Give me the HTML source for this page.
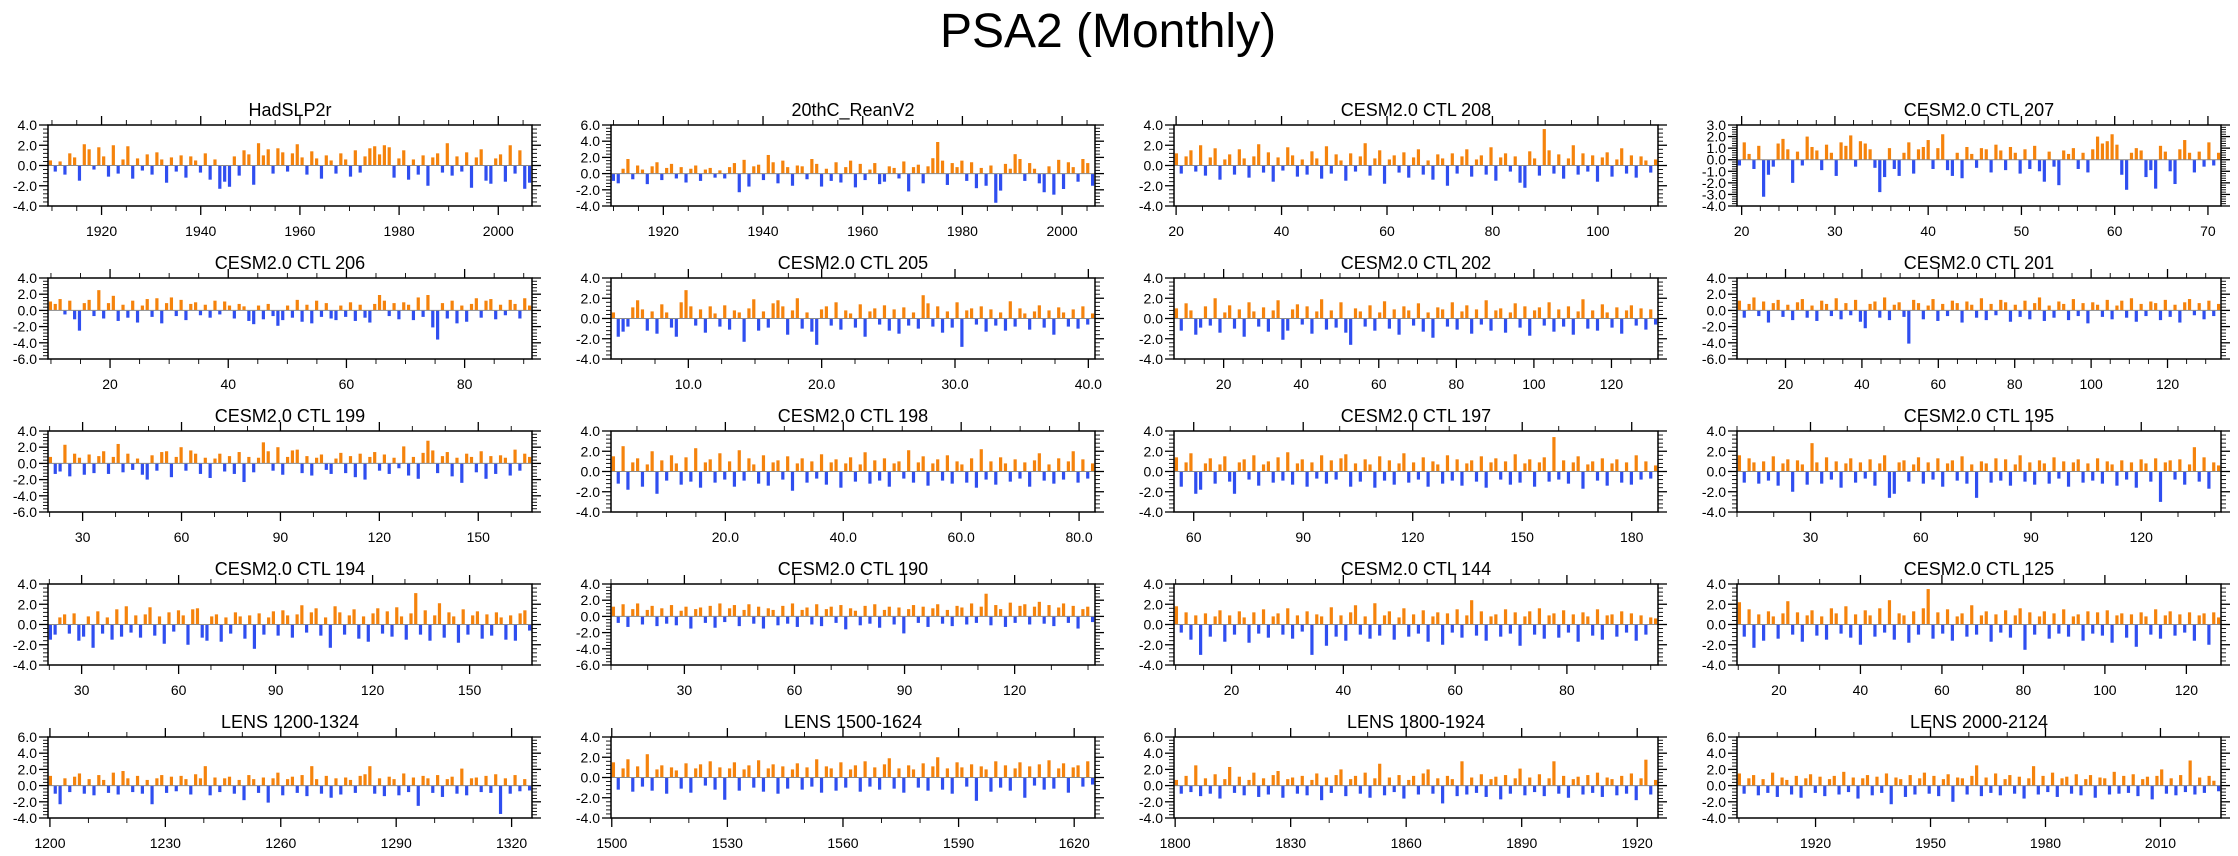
<!DOCTYPE html>
<html><head><meta charset="utf-8"><title>PSA2 (Monthly)</title>
<style>
html,body{margin:0;padding:0;background:#fff;}
svg{display:block;font-family:"Liberation Sans",Arial,sans-serif;}
</style></head>
<body>
<svg id="chart" width="2238" height="856" viewBox="0 0 2238 856" xmlns="http://www.w3.org/2000/svg">
<rect x="0" y="0" width="2238" height="856" fill="#fff"/>
<text x="1108" y="47" font-size="48" text-anchor="middle" fill="#000">PSA2 (Monthly)</text>
</svg>
<script>
// ---- panel metadata ----
const titles = ["HadSLP2r","20thC_ReanV2","CESM2.0 CTL 208","CESM2.0 CTL 207",
"CESM2.0 CTL 206","CESM2.0 CTL 205","CESM2.0 CTL 202","CESM2.0 CTL 201",
"CESM2.0 CTL 199","CESM2.0 CTL 198","CESM2.0 CTL 197","CESM2.0 CTL 195",
"CESM2.0 CTL 194","CESM2.0 CTL 190","CESM2.0 CTL 144","CESM2.0 CTL 125",
"LENS 1200-1324","LENS 1500-1624","LENS 1800-1924","LENS 2000-2124"];
const yMins = [-4,-4,-4,-4, -6,-4,-4,-6, -6,-4,-4,-4, -4,-6,-4,-4, -4,-4,-4,-4];
const yMaxs = [4,6,4,3, 4,4,4,4, 4,4,4,4, 4,4,4,4, 6,4,6,6];
const ySteps = [2,2,2,1, 2,2,2,2, 2,2,2,2, 2,2,2,2, 2,2,2,2];
const xStarts = [1909.2,1909.5,19.6,19.5, 9.5,4.2,7.2,7.3, 19.5,0.6,54.6,10, 19.6,10,9.7,9.7, 1199.5,1499.8,1799.7,1899.5];
const xEnds = [2006.8,2006.6,111.4,71.4, 91.4,40.5,132,134, 166.3,82.7,187.2,141.7, 169.3,141.9,96.3,128.5, 1325.3,1625.4,1925.4,2025.8];
const xMajor = [20,20,20,10, 20,10,20,20, 30,20,30,30, 30,30,20,20, 30,30,30,30];
const xMinor = [5,5,5,2, 5,2.5,5,5, 10,5,10,10, 10,10,5,10, 10,10,10,10];
const xDecimals = [0,0,0,0, 0,1,0,0, 0,1,0,0, 0,0,0,0, 0,0,0,0];

// ---- series values (smoothed PSA2 index, evenly spaced over each panel's span) ----
const s0 = [0.5,-0.6,0.4,-0.9,1.2,0.8,-1.5,2.1,1.6,-0.4,1.8,0.9,-1.1,2.0,-0.8,0.6,1.9,-1.3,0.7,-0.5,1.1,-0.9,1.3,0.6,-1.7,0.8,-0.6,1.0,-1.2,0.9,0.5,-0.7,1.2,-1.4,0.6,-2.3,-1.6,-2.1,0.9,-1.0,1.5,1.1,-1.9,2.2,1.0,1.6,-0.8,1.7,1.3,-0.6,1.2,2.1,0.8,-0.9,1.4,0.7,-1.3,1.0,0.5,-0.8,1.2,0.6,-1.1,1.5,-0.7,0.9,1.7,1.9,1.1,2.0,1.8,-1.2,0.7,1.5,-1.4,0.6,-0.9,1.0,-2.0,0.8,1.2,-0.7,2.2,-1.0,0.9,-0.6,1.3,-2.2,0.8,1.6,-1.5,-1.8,0.7,1.1,-1.6,2.0,-0.8,1.5,-2.3,-1.7];
const s1 = [-0.9,-1.2,0.6,1.8,-0.7,1.0,0.5,-1.3,0.9,1.4,-0.8,0.7,1.2,-0.6,0.8,-1.1,0.6,1.0,-0.9,0.5,0.7,-0.5,0.4,-0.6,0.8,1.3,-2.3,1.7,-1.6,0.9,1.1,-0.8,2.3,1.4,-1.2,1.6,0.8,-1.5,1.0,0.9,-0.7,1.8,1.2,-1.6,0.6,-0.9,1.4,-1.1,0.8,1.6,-1.7,1.2,-0.8,0.5,1.3,-1.3,-1.0,0.9,0.7,-0.6,1.5,-2.2,0.8,1.1,-1.2,0.9,1.9,3.9,1.6,-1.4,1.3,0.8,1.6,-0.9,1.4,-1.8,0.7,-1.5,1.0,-3.6,-2.1,1.2,0.6,2.4,1.8,-0.9,1.3,0.6,-1.2,-2.3,0.9,-2.6,1.7,-1.9,1.4,0.8,-1.0,1.8,1.3,-1.5];
const s2 = [1.2,-0.8,0.9,1.5,-0.6,2.0,-1.0,0.8,1.7,-1.4,0.6,1.1,-0.9,1.6,0.7,-1.2,0.9,2.1,-0.7,1.3,-1.6,0.8,-0.5,1.8,1.0,-1.1,0.6,-0.9,1.4,0.7,-1.3,1.9,-0.8,1.1,0.5,-1.5,1.2,-0.6,0.9,2.2,-1.0,0.7,1.5,-1.8,0.6,1.0,-0.7,1.3,-1.2,0.8,1.6,-0.9,0.5,-1.4,1.1,0.7,-2.0,1.2,-0.8,0.9,1.6,-1.1,0.6,1.0,-0.9,1.8,-1.5,0.8,1.2,-0.6,0.9,-1.7,-2.2,1.4,0.7,-1.0,3.6,1.5,-0.8,1.1,-1.3,0.7,2.0,-0.9,1.2,-0.6,1.0,-1.6,0.8,1.3,-1.1,0.6,1.7,-0.8,1.0,-1.2,0.9,0.5,-0.7,0.6];
const s3 = [-0.5,1.5,0.5,-0.8,1.2,-3.2,-1.3,-0.6,1.4,1.8,0.9,-2.0,0.7,-0.5,2.0,1.1,0.8,-0.9,1.3,0.6,-1.4,1.5,1.2,2.1,-0.6,1.6,1.4,0.9,-0.7,-2.8,-1.5,1.0,-0.8,-1.4,0.6,1.5,-1.2,0.9,1.1,1.7,-0.8,1.0,2.2,-0.9,-1.4,0.6,-1.6,1.1,0.5,-0.7,1.0,0.9,-1.1,1.3,0.8,-0.9,1.1,0.6,-1.2,0.9,-0.8,1.2,-1.0,-1.9,0.7,-0.6,-2.2,0.8,0.5,1.0,-0.8,0.6,-1.1,0.9,2.0,1.4,1.6,2.2,1.3,-1.3,-2.6,0.6,1.0,0.8,-1.5,-0.9,-2.5,1.2,0.7,-1.0,-2.1,0.9,1.7,0.6,-1.1,0.7,-0.6,1.5,-0.5,0.6];
const s4 = [1.1,0.8,1.4,-0.5,1.2,-1.1,-2.5,0.9,1.3,-0.7,2.5,-1.0,0.9,1.8,-1.3,0.7,-0.9,1.2,-1.5,0.6,1.4,-0.8,1.5,-1.6,0.9,1.6,-0.7,1.3,-1.2,0.8,1.0,-0.6,0.7,-0.9,1.2,-0.5,1.1,0.6,-1.0,0.8,0.5,-1.3,-1.7,0.6,-1.1,0.8,-0.7,-1.9,-1.2,0.6,-0.9,1.3,-1.4,0.7,-1.6,1.2,-0.8,0.9,-1.0,-1.2,0.6,-0.8,1.0,-1.3,0.7,-0.9,-1.5,0.8,1.9,1.2,-0.7,0.9,-1.1,1.0,0.7,-1.2,1.6,-0.8,1.9,-2.1,-3.6,0.9,-1.0,1.2,-1.6,0.6,-1.4,0.8,1.5,-0.9,1.2,1.4,-1.1,0.7,-0.6,1.3,0.8,-1.0,1.5,0.6];
const s5 = [0.6,-1.8,-1.3,-0.8,1.1,1.8,0.9,-1.2,0.7,-1.5,1.4,0.6,-0.9,-1.8,1.6,2.8,1.2,-0.7,0.9,-1.4,1.2,0.5,-0.8,1.3,-1.1,0.8,0.6,-2.3,1.0,1.9,-1.2,0.7,-0.9,1.5,1.8,1.2,-1.6,0.8,2.0,-1.0,0.6,-1.3,-2.6,0.9,1.2,-0.7,1.6,-1.1,0.8,0.5,-0.9,1.4,-1.8,0.7,1.0,-0.6,1.3,-1.2,0.9,-1.5,1.1,-0.7,0.6,-1.0,2.3,1.5,-0.8,1.2,-1.4,0.7,-0.9,1.6,-2.8,0.8,1.0,-0.6,1.2,-1.3,0.9,-0.7,0.6,-1.2,1.7,-0.8,1.0,0.5,-1.1,0.7,1.3,-0.9,0.8,-1.6,1.1,0.6,-0.8,0.9,-1.0,1.2,-0.6,0.5];
const s6 = [1.0,-1.2,1.5,0.8,-1.6,-0.9,1.2,-0.7,2.0,-1.4,0.6,1.3,-1.0,0.9,-1.8,1.6,0.7,-0.8,1.1,-1.3,0.8,1.8,-2.1,-1.2,0.9,1.4,-0.6,1.2,-1.5,0.7,1.9,-1.1,0.8,-0.9,1.6,-1.4,-2.6,1.0,0.7,-0.8,1.3,-1.2,0.6,1.7,-1.0,0.9,-1.6,1.2,0.8,-0.7,1.5,-1.3,0.6,-1.9,1.1,0.9,-0.8,1.6,-1.1,0.7,1.3,-1.5,0.9,-0.6,1.8,-1.2,0.8,1.0,-1.4,0.6,1.5,-0.9,1.2,-1.7,0.8,1.1,-0.7,1.6,-1.3,0.9,-0.8,1.2,-1.6,0.7,1.9,-1.0,0.8,-1.2,1.4,0.6,-0.9,1.1,-1.5,0.8,1.3,-0.7,1.0,-1.1,0.9,-0.6];
const s7 = [1.2,-0.9,0.8,1.6,-0.7,1.1,-1.5,0.9,1.3,-0.8,0.7,-1.2,1.0,1.4,-0.9,0.6,-1.3,1.2,0.8,-0.7,1.5,-1.1,0.9,-0.6,1.3,-1.4,-2.2,0.8,1.1,-0.9,1.6,-1.2,0.7,1.0,-0.8,-4.1,1.3,0.9,-1.1,0.6,1.4,-1.3,0.8,-0.7,1.2,0.9,-1.5,1.1,0.7,-0.9,1.5,-1.2,0.8,-0.6,1.3,1.0,-1.4,0.7,-0.8,1.2,-1.1,0.9,1.6,-1.3,0.6,-0.9,1.1,0.8,-1.2,1.4,-0.7,0.9,-1.6,1.0,0.7,-0.8,1.3,-1.1,0.6,1.2,-0.9,1.5,-1.4,0.8,-0.7,1.1,0.9,-1.2,1.3,-0.8,0.7,-1.5,1.0,1.4,-0.6,0.9,-1.1,1.2,-0.7,0.8];
const s8 = [0.8,-1.3,-1.0,2.3,-1.6,1.2,0.7,-1.4,1.1,-1.2,0.9,1.5,-1.3,0.8,2.4,-1.1,1.2,-0.8,0.6,-1.4,-2.0,1.0,-0.9,1.4,1.5,-1.7,0.8,2.0,-0.9,1.6,1.2,-1.3,0.7,-1.8,0.6,1.2,-1.0,0.9,-1.3,1.4,-2.3,0.8,-1.1,0.7,2.6,1.5,-0.9,2.0,-1.4,0.8,1.6,1.7,-1.2,0.9,-1.5,0.7,1.1,-0.8,-1.3,0.6,1.3,-1.2,0.9,-1.7,1.2,-2.0,0.8,1.4,-0.9,1.1,-1.3,0.7,-0.6,2.1,-1.5,0.8,-1.9,1.3,2.8,1.6,-1.2,0.9,1.4,-1.6,0.7,-2.4,1.2,0.8,-1.1,1.5,-1.9,0.9,-1.3,1.0,0.7,-1.5,1.7,-0.9,1.2,0.8];
const s9 = [1.5,-1.2,2.5,-1.8,0.9,1.3,-1.5,0.7,2.0,-2.2,1.1,-0.9,1.6,0.8,-1.3,1.4,-1.0,2.3,-1.6,0.9,1.2,-1.1,1.8,-0.8,1.0,-1.5,2.1,-0.9,1.3,0.7,-1.2,1.6,-1.4,0.9,1.1,-0.8,1.5,-1.9,0.8,1.3,-1.1,1.0,-0.7,1.7,-1.3,0.9,1.2,-1.6,0.8,1.4,-1.0,0.7,1.9,-1.2,1.1,-0.9,1.3,-1.5,0.8,1.0,-0.7,2.1,-1.1,0.9,1.5,-1.4,0.8,1.2,-0.9,1.6,-1.2,1.0,0.7,-1.1,1.3,-1.6,2.2,-0.8,1.0,-1.3,1.4,0.8,-1.0,1.2,-0.7,0.9,-1.5,1.1,1.8,-0.9,0.7,-1.2,1.3,-0.8,1.0,2.0,-1.1,1.2,-0.7,0.8];
const s10 = [1.4,-1.5,0.9,1.8,-2.2,-1.8,0.8,1.3,-1.2,0.7,1.5,-1.0,-2.2,0.9,1.2,-0.8,1.6,-1.4,0.7,1.0,-1.1,1.4,-0.9,1.9,-1.3,0.8,1.2,-1.5,0.9,-0.7,1.6,-1.2,1.1,-0.8,1.3,1.7,-1.5,0.8,-1.0,1.2,0.7,-1.6,1.5,-0.9,1.1,-1.3,0.8,1.8,-1.1,0.9,-0.8,1.4,-1.5,1.0,0.7,-1.2,1.6,-0.9,1.2,-1.4,0.8,1.1,-1.0,1.5,-1.6,0.9,1.3,-0.8,1.0,-1.3,1.7,-1.1,0.8,1.2,-1.5,0.9,1.4,-1.0,3.4,-0.8,1.1,-1.2,0.9,1.5,-1.7,0.7,1.0,-0.9,1.3,-1.4,0.8,1.2,-1.1,0.9,-1.3,1.6,-0.8,1.0,-0.7,0.6];
const s11 = [1.6,-1.1,1.3,0.9,-1.2,1.0,-0.9,1.5,-1.4,0.8,1.2,-2.0,1.1,0.7,-1.3,2.8,0.9,-1.2,1.4,-0.8,1.0,-1.6,0.8,1.3,-1.1,0.9,-0.7,1.2,-1.4,0.8,1.6,-2.6,-2.2,0.9,1.1,-1.0,0.7,1.4,-1.2,0.9,-0.8,1.3,-1.5,0.8,1.1,-0.9,1.5,-1.2,0.7,-2.6,1.0,0.8,-1.1,1.3,-0.9,1.2,-1.4,0.7,1.6,-1.0,0.9,-1.3,1.1,0.8,-1.2,1.4,-0.7,1.0,-1.5,0.9,1.2,-1.1,0.8,-0.9,1.3,-1.2,1.0,0.7,-1.4,1.1,-0.8,0.9,-1.6,1.2,0.8,-1.0,1.3,-3.0,0.9,1.1,-0.8,1.2,-1.3,0.7,2.4,-1.0,1.4,-1.7,0.9,0.6];
const s12 = [-1.5,-1.0,0.7,1.0,-0.9,1.1,-1.6,-1.2,0.8,-2.3,1.3,-0.9,0.7,-1.5,1.5,-1.2,1.8,-0.8,0.9,-1.3,1.0,1.7,-1.1,0.8,-1.9,1.2,-0.7,1.4,0.9,-2.0,1.5,1.6,-1.3,-1.6,0.8,1.0,-1.7,0.7,-0.9,1.2,0.8,-1.4,0.9,-2.4,1.1,-1.0,0.7,1.3,-1.1,1.4,0.9,-1.3,1.0,1.9,-0.8,1.2,1.6,-1.1,0.7,-2.3,1.8,1.2,-1.0,0.9,1.5,-1.4,0.8,-1.7,1.1,1.6,-0.9,1.3,-1.2,1.7,0.8,-1.5,1.1,3.1,-1.0,1.4,-1.6,0.9,2.1,-1.3,1.2,0.8,-1.8,1.5,-1.0,0.9,1.3,-1.4,1.0,-1.1,1.2,0.7,-1.5,0.9,-1.6,1.1,1.4,-0.6];
const s13 = [1.2,-0.8,1.5,-1.3,0.9,1.6,-1.0,0.8,1.3,-1.2,1.0,-0.9,1.4,-1.1,0.7,1.2,-1.5,0.9,1.1,-0.8,1.3,-1.4,1.6,-0.7,1.0,1.4,-1.2,0.8,1.5,-0.9,1.2,-1.5,1.0,0.8,-1.1,1.3,-0.9,1.6,-1.3,0.8,1.1,-1.0,1.5,-1.2,0.9,1.2,-0.8,1.4,-1.6,1.0,0.7,-1.1,1.3,-0.9,1.5,-1.4,0.8,1.2,-1.0,1.1,-2.1,0.9,1.4,-0.8,1.2,-1.3,1.0,1.5,-0.9,0.8,-1.2,1.3,1.1,-1.0,1.6,-0.8,1.2,2.8,-1.1,1.4,0.9,-1.3,1.7,-0.8,1.3,1.5,-1.0,1.2,1.8,-0.9,1.4,-1.2,1.1,1.6,-0.8,1.3,-1.5,0.9,1.2,-0.7];
const s14 = [1.8,-0.8,1.2,-1.5,0.9,-3.0,1.1,-1.2,0.8,1.4,-1.7,0.9,-1.0,1.3,0.7,-1.8,1.2,-0.9,1.5,-1.3,0.8,1.1,-1.0,1.6,-1.4,0.9,-0.7,1.3,-3.0,1.0,0.8,-2.1,1.7,-1.2,0.9,-1.6,1.2,1.9,-1.0,0.8,-1.4,2.1,-1.1,0.9,1.3,-1.5,0.7,1.6,-1.2,1.0,-0.9,1.4,-1.7,0.8,1.2,-2.0,1.1,-0.8,1.5,-1.3,0.9,2.4,-1.1,1.3,-1.6,0.8,1.0,-1.2,1.5,-0.9,1.2,-2.1,0.8,1.3,-1.0,1.6,-1.4,0.9,1.1,-1.3,1.4,-0.8,1.0,-1.7,1.2,0.8,-1.1,1.5,-1.5,0.9,1.0,-1.2,1.3,-0.8,1.1,-1.6,0.9,-1.0,0.7,0.6];
const s15 = [2.2,-1.2,1.5,-2.3,1.0,-1.6,1.3,0.8,-1.4,1.1,2.3,-1.0,1.2,-1.7,0.9,1.4,-1.1,0.8,-1.5,1.6,1.1,-0.9,1.8,-1.3,1.0,-2.0,1.4,0.9,-1.2,1.6,-0.8,2.4,-1.5,1.1,0.9,-1.8,1.3,-1.0,1.6,3.5,-1.4,1.2,-0.9,1.5,-1.6,0.8,1.1,-1.2,1.9,-1.0,0.9,1.3,-1.7,1.0,-0.8,1.4,-1.3,0.9,1.6,-2.5,1.2,-1.0,0.8,1.3,-1.4,1.1,-0.9,1.5,-1.2,0.8,1.0,-1.6,1.3,-0.9,1.2,-1.1,1.4,-1.8,0.9,1.1,-1.3,1.0,-2.2,1.2,0.8,-1.0,1.5,-1.4,0.9,1.3,-1.1,1.0,-0.8,1.2,-1.6,0.9,1.1,-2.0,1.2,0.7];
const s16 = [1.2,-1.0,-2.3,0.9,-0.8,1.1,1.5,-1.0,0.8,-1.2,1.3,0.7,-0.9,1.6,-1.1,1.8,0.9,-0.8,1.2,-1.0,0.7,-2.3,0.9,1.3,-0.9,1.1,-0.7,1.2,0.8,-1.1,1.4,0.9,2.4,-1.2,1.0,-0.8,0.9,1.1,-1.0,0.7,-1.8,1.3,0.8,-0.9,1.0,-2.1,0.9,1.6,-1.2,0.8,1.1,-0.9,1.3,-1.3,2.4,0.8,-1.0,1.2,-1.5,0.9,-1.1,1.0,0.7,-0.9,1.2,1.4,2.4,-1.0,0.9,-1.3,1.1,0.8,-1.2,1.5,-0.8,1.0,-2.5,1.2,0.9,-0.9,1.3,-1.4,0.8,1.1,-1.0,2.1,-1.2,0.9,1.0,-0.8,1.2,-0.9,1.4,-3.5,0.9,-1.0,1.3,-0.7,0.8,-0.6];
const s17 = [1.5,-1.2,0.9,1.8,-1.4,1.1,-0.9,2.3,-1.3,0.8,1.2,-1.6,1.0,0.7,-1.1,1.4,-1.5,0.9,1.3,-0.8,1.6,-1.2,1.0,-2.2,0.9,1.5,-1.3,0.8,1.2,-1.0,1.7,-1.4,0.9,1.3,-1.6,1.1,-1.1,0.8,1.4,-1.2,1.0,-0.9,1.8,-1.5,1.1,0.9,-1.3,1.5,-1.0,0.8,1.2,-1.4,1.6,-0.9,1.0,-1.2,1.3,1.9,-1.1,0.9,-1.5,1.2,0.8,-1.0,1.4,-1.3,1.1,2.0,-1.2,0.9,-1.6,1.5,1.0,-0.9,1.3,-2.3,1.1,0.8,-1.4,1.6,-1.0,1.2,-1.3,0.9,1.5,-2.0,1.1,-0.8,1.3,-1.2,1.7,-1.1,0.9,1.4,-1.5,1.0,1.2,-0.9,1.6,-0.7];
const s18 = [0.7,-1.0,1.2,-0.8,2.5,-1.3,0.9,-1.0,1.4,-1.6,0.8,2.3,-0.9,1.1,-1.2,0.7,1.6,-1.4,0.9,-1.1,1.3,1.8,-1.5,0.8,1.0,-1.0,1.2,-1.2,0.7,1.5,-1.8,1.0,-0.9,1.3,2.0,-1.3,0.8,1.2,-1.0,1.6,-1.5,0.9,2.7,-1.2,1.0,-0.8,1.3,-1.6,0.7,1.2,-1.1,1.5,2.0,-1.0,0.9,-2.2,1.2,0.8,-1.3,3.0,-1.1,1.0,-0.9,1.4,-1.4,0.8,1.1,-1.7,1.3,-1.0,0.9,2.1,-1.2,1.0,-0.8,1.4,-1.3,0.9,3.0,-1.0,1.2,-1.5,0.8,1.1,-1.1,1.3,-0.9,1.6,-1.4,1.0,0.8,-1.2,1.2,-1.0,1.5,-1.8,0.9,3.2,-1.1,0.7];
const s19 = [1.5,-1.0,0.9,1.3,-1.2,0.8,-0.9,1.6,-1.4,1.0,0.7,-1.1,1.2,-1.5,0.9,1.4,-0.9,1.1,-1.3,0.8,1.2,-1.1,1.7,-0.8,1.0,-1.6,0.9,1.3,-1.2,1.1,-0.9,1.5,-2.3,1.0,0.8,-1.4,1.3,-1.1,0.9,1.6,-1.0,1.2,-1.3,0.8,1.4,-2.0,1.0,0.9,-1.1,1.2,2.5,-1.3,1.0,-0.9,1.5,-1.2,0.8,1.3,-1.0,1.1,-1.6,0.9,2.4,-1.1,1.2,-0.8,1.6,-1.4,0.9,1.1,-1.0,1.4,-1.2,0.8,1.3,-1.5,1.0,0.9,-1.1,1.7,-1.0,1.2,-0.9,1.4,-1.3,0.8,1.1,-1.7,1.2,2.0,-1.0,0.9,-1.2,1.3,-0.8,3.1,-1.1,1.0,-0.9,1.2,0.6,-0.7];
const seriesList = [s0,s1,s2,s3,s4,s5,s6,s7,s8,s9,s10,s11,s12,s13,s14,s15,s16,s17,s18,s19];

// ---- layout ----
const colLeft = [48,611,1174,1737];
const PW = 484, PH = 81, ROW0 = 125, ROWSTEP = 153;
const NS = 'http://www.w3.org/2000/svg';
const svg = document.getElementById('chart');

function mk(tag, attrs, parent){
  const e = document.createElementNS(NS, tag);
  for (const k in attrs) e.setAttribute(k, attrs[k]);
  (parent||svg).appendChild(e);
  return e;
}
function slug(s){ return s.toLowerCase().replace(/[^a-z0-9]+/g,'-').replace(/^-|-$/g,''); }

for (let p = 0; p < 20; p++) {
  const L = colLeft[p % 4], T = ROW0 + ROWSTEP * Math.floor(p / 4);
  const ymin = yMins[p], ymax = yMaxs[p], x0 = xStarts[p], x1 = xEnds[p];
  const sx = t => L + (t - x0) / (x1 - x0) * PW;
  const sy = v => T + (ymax - v) / (ymax - ymin) * PH;
  const g = mk('g', {});
  
  

  // title
  const tt = mk('text', {x: L + PW/2, y: T - 9, 'font-size': 18, 'text-anchor': 'middle', fill: '#000'}, g);
  tt.textContent = titles[p];
  
  

  // bars
  const vals = seriesList[p];
  const n = vals.length;
  const bw = 3.2;
  const bars = mk('g', {}, g);
  
  
  for (let i = 0; i < n; i++) {
    const v = vals[i];
    const t = x0 + (i + 0.5) * (x1 - x0) / n;
    const ya = sy(Math.max(v, 0)), yb = sy(Math.min(v, 0));
    const r = mk('rect', {x: sx(t) - bw/2, y: ya, width: bw, height: Math.max(0.5, yb - ya), fill: v > 0 ? '#f5830c' : '#2f4ef0'}, bars);
    
    
  }
  // zero line
  const z = mk('line', {x1: L, x2: L + PW, y1: sy(0), y2: sy(0), stroke: '#8a8a8a', 'stroke-width': 1}, g);
  
  

  // frame
  const fr = mk('rect', {x: L, y: T, width: PW, height: PH, fill: 'none', stroke: '#000', 'stroke-width': 1.5}, g);
  
  

  // y ticks (left & right, outward)
  const ys = ySteps[p], ymn = ys / 5;
  for (let k = Math.round(ymin / ymn); k <= Math.round(ymax / ymn); k++) {
    const v = k * ymn, y = sy(v);
    const major = (k % 5 === 0);
    const len = major ? 9 : 5;
    mk('line', {x1: L - len, x2: L, y1: y, y2: y, stroke: '#000', 'stroke-width': major ? 1.3 : 0.9}, g);
    mk('line', {x1: L + PW, x2: L + PW + len, y1: y, y2: y, stroke: '#000', 'stroke-width': major ? 1.3 : 0.9}, g);
    if (major) {
      const lab = mk('text', {x: L - 11, y: y + 5, 'font-size': 14, 'text-anchor': 'end', fill: '#000'}, g);
      lab.textContent = v.toFixed(1);
      
      
    }
  }
  // x ticks (top & bottom, outward)
  const mj = xMajor[p], mn = xMinor[p];
  for (let k = Math.ceil(x0 / mn - 1e-9); k * mn <= x1 + 1e-9; k++) {
    const t = k * mn, x = sx(t);
    const major = Math.abs(t / mj - Math.round(t / mj)) < 1e-6;
    const len = major ? 9 : 5;
    mk('line', {x1: x, x2: x, y1: T + PH, y2: T + PH + len, stroke: '#000', 'stroke-width': major ? 1.3 : 0.9}, g);
    mk('line', {x1: x, x2: x, y1: T - len, y2: T, stroke: '#000', 'stroke-width': major ? 1.3 : 0.9}, g);
    if (major) {
      const lab = mk('text', {x: x, y: T + PH + 30, 'font-size': 14, 'text-anchor': 'middle', fill: '#000'}, g);
      lab.textContent = t.toFixed(xDecimals[p]);
      
      
    }
  }
}
</script>
</body></html>
